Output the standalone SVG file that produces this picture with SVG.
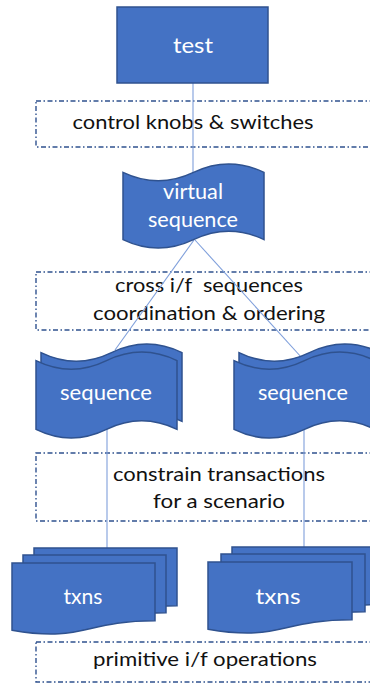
<svg xmlns="http://www.w3.org/2000/svg" width="370" height="684" viewBox="0 0 370 684">
<style>
.shape{fill:#4472C4;stroke:#2F528F;stroke-width:1.5}
.band{fill:none;stroke:#2F528F;stroke-width:1.4;stroke-dasharray:5 2.5 1.5 2.5}
.lbl{font-family:Lato,"Liberation Sans",sans-serif;font-size:19px;fill:#111;text-anchor:middle;white-space:pre}
.wt{font-family:Lato,"Liberation Sans",sans-serif;font-size:21px;fill:#fff;text-anchor:middle}
.conn{stroke:#7F9FDB;stroke-width:1.1;fill:none}
</style>
<rect width="370" height="684" fill="#fff"/>
<g id="bands">
<rect class="band" x="36" y="101" width="350" height="46"/>
<text class="lbl" x="193" y="129" textLength="241" lengthAdjust="spacingAndGlyphs">control knobs &amp; switches</text>
<rect class="band" x="36" y="272" width="350" height="58"/>
<text class="lbl" x="209" y="292" textLength="188" lengthAdjust="spacingAndGlyphs" xml:space="preserve">cross i/f  sequences</text>
<text class="lbl" x="209" y="320" textLength="232" lengthAdjust="spacingAndGlyphs">coordination &amp; ordering</text>
<rect class="band" x="36" y="453" width="350" height="68"/>
<text class="lbl" x="219" y="481" textLength="212" lengthAdjust="spacingAndGlyphs">constrain transactions</text>
<text class="lbl" x="219" y="508" textLength="132" lengthAdjust="spacingAndGlyphs">for a scenario</text>
<rect class="band" x="36" y="642" width="350" height="40"/>
<text class="lbl" x="205" y="666" textLength="224" lengthAdjust="spacingAndGlyphs">primitive i/f operations</text>
</g>
<g id="connectors">
<line class="conn" x1="193" y1="83" x2="193" y2="175"/>
<line class="conn" x1="194" y1="240" x2="115" y2="350"/>
<line class="conn" x1="195" y1="240" x2="302" y2="358"/>
<line class="conn" x1="107" y1="428" x2="107" y2="550"/>
<line class="conn" x1="304" y1="428" x2="304" y2="549"/>
</g>
<g id="test">
<rect class="shape" x="117" y="7" width="151" height="76"/>
<text class="wt" x="193" y="53" font-size="23" textLength="40" lengthAdjust="spacingAndGlyphs">test</text>
</g>
<g id="virtual-sequence">
<path class="shape" d="M123,172.4 Q158.25,189.2 193.5,172.4 T264,172.4 L264,239.6 Q228.75,222.8 193.5,239.6 T123,239.6 Z"/>
<text class="wt" x="193" y="199" textLength="60" lengthAdjust="spacingAndGlyphs">virtual</text>
<text class="wt" x="193" y="227" textLength="90" lengthAdjust="spacingAndGlyphs">sequence</text>
</g>
<g id="sequence-left">
<path class="shape" d="M41,352.6 Q76.25,369.8 111.5,352.6 T182,352.6 L182,421.4 Q146.75,404.2 111.5,421.4 T41,421.4 Z"/>
<path class="shape" d="M36,360.6 Q71.25,377.8 106.5,360.6 T177,360.6 L177,429.4 Q141.75,412.2 106.5,429.4 T36,429.4 Z"/>
<text class="wt" x="106" y="400" textLength="92" lengthAdjust="spacingAndGlyphs">sequence</text>
</g>
<g id="sequence-right">
<path class="shape" d="M239,352.6 Q274.25,369.8 309.5,352.6 T380,352.6 L380,421.4 Q344.75,404.2 309.5,421.4 T239,421.4 Z"/>
<path class="shape" d="M234,360.6 Q269.25,377.8 304.5,360.6 T375,360.6 L375,429.4 Q339.75,412.2 304.5,429.4 T234,429.4 Z"/>
<text class="wt" x="303" y="400" textLength="90" lengthAdjust="spacingAndGlyphs">sequence</text>
</g>
<g id="txns-left">
<path class="shape" d="M34,548 H177 V605.7 C105.5,605.7 105.5,627.7 34,615.2 Z"/>
<path class="shape" d="M23,555 H166 V612.7 C94.5,612.7 94.5,634.7 23,622.2 Z"/>
<path class="shape" d="M12,563 H155 V620.7 C83.5,620.7 83.5,642.7 12,630.2 Z"/>
<text class="wt" x="83" y="604" textLength="39" lengthAdjust="spacingAndGlyphs">txns</text>
</g>
<g id="txns-right">
<path class="shape" d="M232,547 H376 V604.7 C304,604.7 304,626.7 232,614.2 Z"/>
<path class="shape" d="M221,554 H365 V611.7 C293,611.7 293,633.7 221,621.2 Z"/>
<path class="shape" d="M208,562 H352 V619.7 C280,619.7 280,641.7 208,629.2 Z"/>
<text class="wt" x="278" y="604" textLength="45" lengthAdjust="spacingAndGlyphs">txns</text>
</g>
</svg>
